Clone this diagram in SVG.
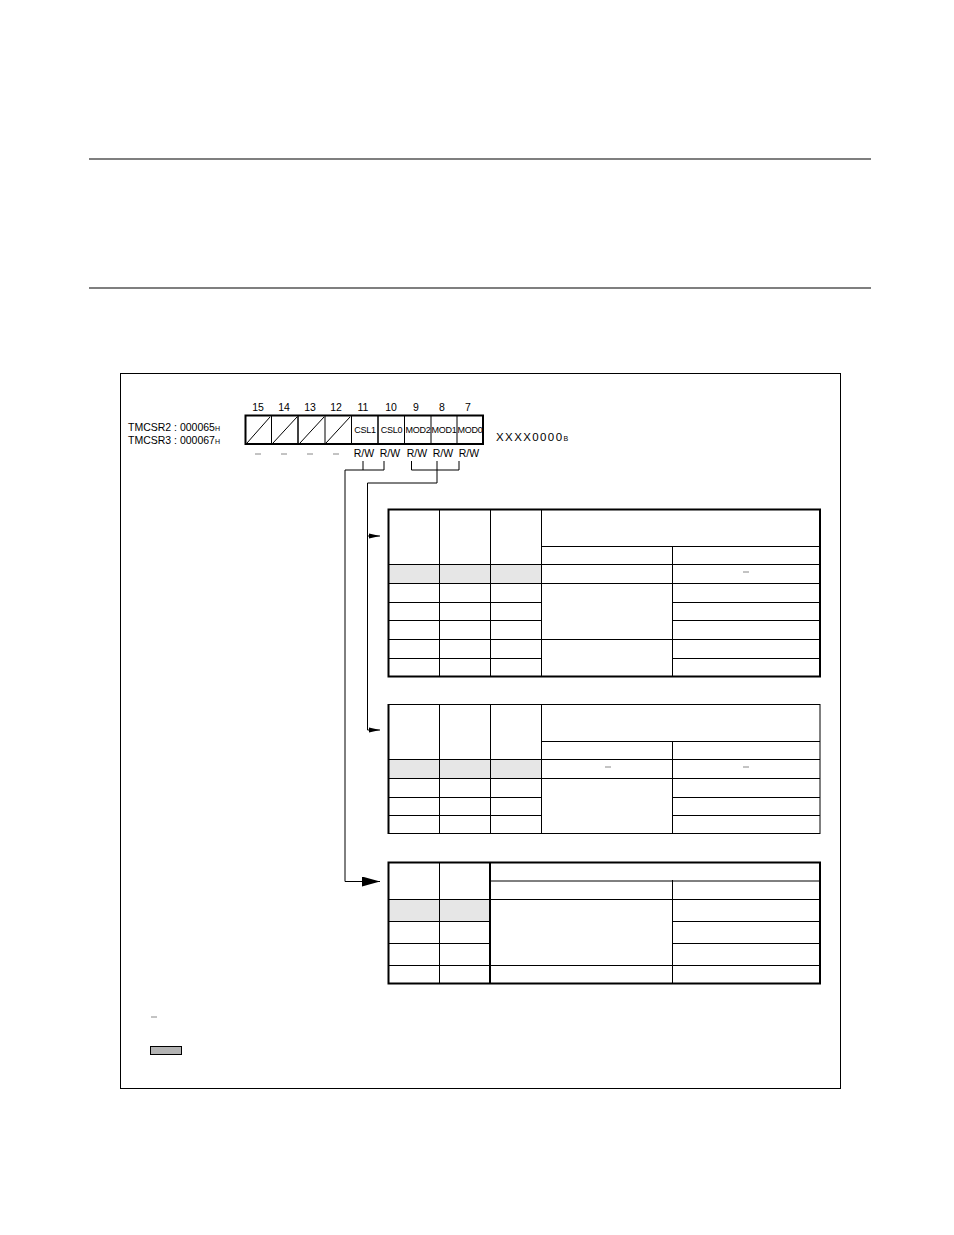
<svg xmlns="http://www.w3.org/2000/svg" width="954" height="1235" viewBox="0 0 954 1235">
<style>
text{font-family:"Liberation Sans",Arial,sans-serif;fill:#000}
.bn{font-size:10.5px;text-anchor:middle}
.lbl{font-size:10.5px}
.sub{font-size:7px}
.cell{font-size:9px;text-anchor:middle;letter-spacing:-0.3px}
.rw{font-size:10.5px;text-anchor:middle}
.dash{stroke:#888;stroke-width:1}
.tl{stroke:#000;stroke-width:1;fill:none}
.tk{stroke:#000;stroke-width:2;fill:none}
.gray{fill:#e6e6e6}
.conn{stroke:#000;stroke-width:1;fill:none}
</style>
<defs>
<marker id="arS" markerWidth="12" markerHeight="6" refX="11" refY="3" orient="auto" markerUnits="userSpaceOnUse"><path d="M0,0.5 L11,3 L0,5.5 Z" fill="#000"/></marker>
<marker id="arL" markerWidth="19" markerHeight="10" refX="18" refY="5" orient="auto" markerUnits="userSpaceOnUse"><path d="M0,0 L18,5 L0,10 Z" fill="#000"/></marker>
</defs>
<rect width="954" height="1235" fill="#fff"/>
<line x1="89" y1="159" x2="871" y2="159" stroke="#000" stroke-width="1.2"/>
<line x1="89" y1="288" x2="871" y2="288" stroke="#000" stroke-width="1.2"/>
<rect x="120.5" y="373.5" width="720" height="715" fill="none" stroke="#000" stroke-width="1"/>

<g id="register">
<text class="lbl" x="128" y="430.5">TMCSR2 : 000065<tspan class="sub">H</tspan></text>
<text class="lbl" x="128" y="443.5">TMCSR3 : 000067<tspan class="sub">H</tspan></text>
<text class="bn" x="258" y="410.5">15</text>
<text class="bn" x="284" y="410.5">14</text>
<text class="bn" x="310" y="410.5">13</text>
<text class="bn" x="336" y="410.5">12</text>
<text class="bn" x="363" y="410.5">11</text>
<text class="bn" x="391" y="410.5">10</text>
<text class="bn" x="416" y="410.5">9</text>
<text class="bn" x="442" y="410.5">8</text>
<text class="bn" x="468" y="410.5">7</text>
<g class="tl">
<line x1="271.5" y1="415" x2="271.5" y2="444"/>
<line x1="325" y1="415" x2="325" y2="444"/>
<line x1="351.5" y1="415" x2="351.5" y2="444"/>
<line x1="404.5" y1="415" x2="404.5" y2="444"/>
<line x1="431" y1="415" x2="431" y2="444"/>
<line x1="457" y1="415" x2="457" y2="444"/>
<line x1="247" y1="443" x2="270" y2="417"/>
<line x1="273" y1="443" x2="297" y2="417"/>
<line x1="300" y1="443" x2="324" y2="417"/>
<line x1="326" y1="443" x2="350" y2="417"/>
</g>
<line x1="298" y1="415" x2="298" y2="444" stroke="#000" stroke-width="1.5"/>
<line x1="378" y1="415" x2="378" y2="444" stroke="#000" stroke-width="1.5"/>
<rect x="245.5" y="415.5" width="237.5" height="28.5" class="tk" stroke-width="1.5"/>
<text class="cell" x="365" y="433">CSL1</text>
<text class="cell" x="391.5" y="433">CSL0</text>
<text class="cell" x="418" y="433">MOD2</text>
<text class="cell" x="444" y="433">MOD1</text>
<text class="cell" x="470" y="433">MOD0</text>
<line class="dash" x1="255" y1="454" x2="261" y2="454"/>
<line class="dash" x1="281" y1="454" x2="287" y2="454"/>
<line class="dash" x1="307" y1="454" x2="313" y2="454"/>
<line class="dash" x1="333" y1="454" x2="339" y2="454"/>
<text class="rw" x="364" y="457">R/W</text>
<text class="rw" x="390" y="457">R/W</text>
<text class="rw" x="417" y="457">R/W</text>
<text class="rw" x="443" y="457">R/W</text>
<text class="rw" x="469" y="457">R/W</text>
<text x="496" y="440.5" style="font-size:11.5px;letter-spacing:1.4px">XXXX0000<tspan style="font-size:7px;letter-spacing:0">B</tspan></text>
</g>

<g id="connectors">
<path class="conn" d="M363,461 V470 M384,461 V470 M345,470 H384"/>
<path class="conn" d="M345,470 V881.5 H380" marker-end="url(#arL)"/>
<path class="conn" d="M411.5,461 V470 M459,461 V470 M411.5,470 H459 M437,461 V483"/>
<path class="conn" d="M437,483 H367.5 V730 H380" marker-end="url(#arS)"/>
<path class="conn" d="M367.5,536 H380" marker-end="url(#arS)"/>
</g>

<g id="table1">
<rect class="gray" x="388" y="564" width="153" height="19"/>
<g class="tl">
<line x1="439.5" y1="509" x2="439.5" y2="676"/>
<line x1="490.5" y1="509" x2="490.5" y2="676"/>
<line x1="541.5" y1="509" x2="541.5" y2="676"/>
<line x1="672.5" y1="546" x2="672.5" y2="676"/>
<line x1="541" y1="546.5" x2="820" y2="546.5"/>
<line x1="388" y1="564.5" x2="820" y2="564.5"/>
<line x1="388" y1="583.5" x2="820" y2="583.5"/>
<line x1="388" y1="602.5" x2="541" y2="602.5"/>
<line x1="672" y1="602.5" x2="820" y2="602.5"/>
<line x1="388" y1="620.5" x2="541" y2="620.5"/>
<line x1="672" y1="620.5" x2="820" y2="620.5"/>
<line x1="388" y1="639.5" x2="820" y2="639.5"/>
<line x1="388" y1="658.5" x2="541" y2="658.5"/>
<line x1="672" y1="658.5" x2="820" y2="658.5"/>
</g>
<rect class="tk" x="388.5" y="509.5" width="431.5" height="167"/>
<line class="dash" x1="743" y1="572" x2="749" y2="572"/>
</g>

<g id="table2">
<rect class="gray" x="388" y="759" width="153" height="19"/>
<g class="tl">
<line x1="439.5" y1="704" x2="439.5" y2="834"/>
<line x1="490.5" y1="704" x2="490.5" y2="834"/>
<line x1="541.5" y1="704" x2="541.5" y2="834"/>
<line x1="672.5" y1="741" x2="672.5" y2="834"/>
<line x1="541" y1="741.5" x2="820" y2="741.5"/>
<line x1="388" y1="759.5" x2="820" y2="759.5"/>
<line x1="388" y1="778.5" x2="820" y2="778.5"/>
<line x1="388" y1="797.5" x2="541" y2="797.5"/>
<line x1="672" y1="797.5" x2="820" y2="797.5"/>
<line x1="388" y1="815.5" x2="541" y2="815.5"/>
<line x1="672" y1="815.5" x2="820" y2="815.5"/>
<rect x="388.5" y="704.5" width="431.5" height="129"/>
</g>
<line x1="388.5" y1="704" x2="388.5" y2="834" stroke="#000" stroke-width="2"/>
<line class="dash" x1="605" y1="767" x2="611" y2="767"/>
<line class="dash" x1="743" y1="767" x2="749" y2="767"/>
</g>

<g id="table3">
<rect class="gray" x="388" y="899" width="101" height="22"/>
<g class="tl">
<line x1="439.5" y1="862" x2="439.5" y2="984"/>
<line x1="672.5" y1="880" x2="672.5" y2="984"/>
<line x1="490" y1="881" x2="820" y2="881"/>
<line x1="388" y1="899.5" x2="820" y2="899.5"/>
<line x1="388" y1="921.5" x2="489" y2="921.5"/>
<line x1="672" y1="921.5" x2="820" y2="921.5"/>
<line x1="388" y1="943.5" x2="489" y2="943.5"/>
<line x1="672" y1="943.5" x2="820" y2="943.5"/>
<line x1="388" y1="965.5" x2="820" y2="965.5"/>
</g>
<line x1="490" y1="862" x2="490" y2="984" stroke="#000" stroke-width="2"/>
<rect class="tk" x="388.5" y="862.5" width="431.5" height="121"/>
</g>

<g id="legend">
<line class="dash" x1="151" y1="1017" x2="157" y2="1017"/>
<rect x="150.5" y="1046.5" width="31" height="8" fill="#b3b3b3" stroke="#000" stroke-width="1"/>
</g>
</svg>
